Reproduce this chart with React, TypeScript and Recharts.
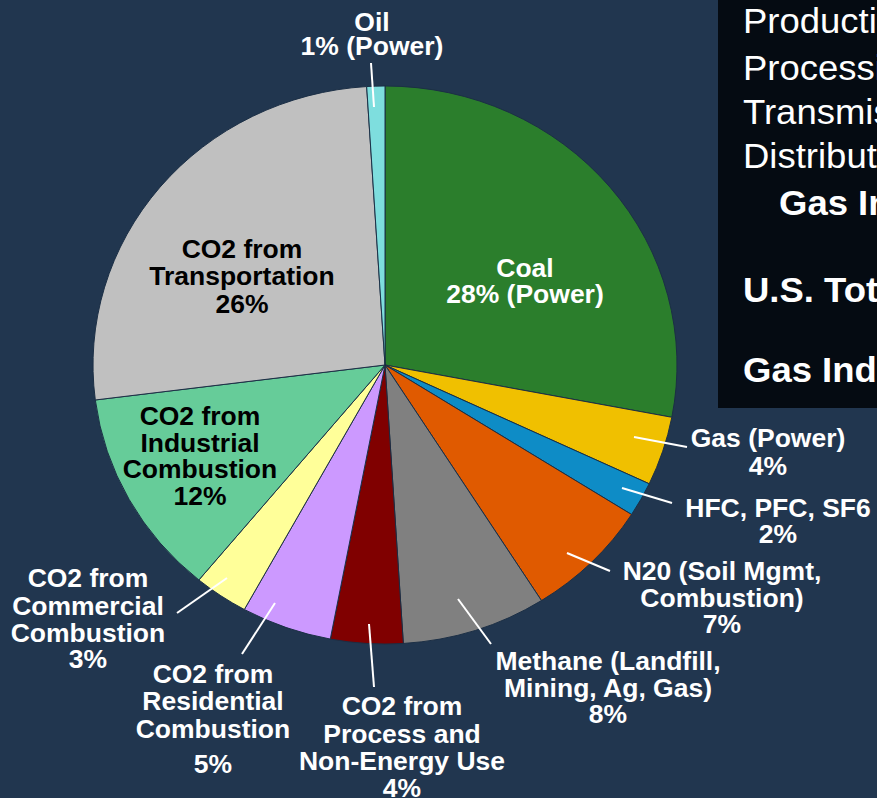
import React from 'react';
import { PieChart, Pie, Cell } from 'recharts';

// ---------- data ----------
const categories = [
  'Coal',
  'Gas (Power)',
  'HFC, PFC, SF6',
  'N20 (Soil Mgmt, Combustion)',
  'Methane (Landfill, Mining, Ag, Gas)',
  'CO2 from Process and Non-Energy Use',
  'CO2 from Residential Combustion',
  'CO2 from Commercial Combustion',
  'CO2 from Industrial Combustion',
  'CO2 from Transportation',
  'Oil',
];
const shares = [28, 4, 2, 7, 8, 4, 5, 3, 12, 26, 1];
const labelTexts = [
  ['Coal', '28% (Power)'],
  ['Gas (Power)', '4%'],
  ['HFC, PFC, SF6', '2%'],
  ['N20 (Soil Mgmt,', 'Combustion)', '7%'],
  ['Methane (Landfill,', 'Mining, Ag, Gas)', '8%'],
  ['CO2 from', 'Process and', 'Non-Energy Use', '4%'],
  ['CO2 from', 'Residential', 'Combustion', '5%'],
  ['CO2 from', 'Commercial', 'Combustion', '3%'],
  ['CO2 from', 'Industrial', 'Combustion', '12%'],
  ['CO2 from', 'Transportation', '26%'],
  ['Oil', '1% (Power)'],
];
const sideBoxTexts = [
  'Production',
  'Processing',
  'Transmission',
  'Distribution',
  'Gas Industry',
  'U.S. Total',
  'Gas Industry',
];

// ---------- styles / layout ----------
const colors = [
  '#2B7E2C', '#F0C000', '#0E8CC6', '#E05A00', '#808080', '#800000',
  '#CC99FF', '#FFFF99', '#66CC99', '#C0C0C0', '#7EDEDE',
];
const BG = '#21364F';
const FONT = '"Liberation Sans", Arial, sans-serif';
const S = 0.9555; // vertical squash of the original slide
const W = 877;
const H = Math.round(798 / S);
const CX = 385;
const CY = 365 / S;
const R = 292;
const LABEL_SIZE = 26.5;
const BOX_SIZE = 36.5;

// label layout, offsets from pie centre in screen pixels
const labelLayout: { x: number; base: number[]; leader?: number[]; dark?: boolean }[] = [
  { x: 140, base: [-88, -62] },
  { x: 383, base: [82, 110], leader: [249, 72, 302, 82] },
  { x: 393, base: [152, 178], leader: [237, 123, 287, 138] },
  { x: 337, base: [215, 242, 268], leader: [182, 188, 225, 206] },
  { x: 223, base: [305, 332, 358], leader: [73, 234, 106, 279] },
  { x: 17, base: [350, 378, 405, 432], leader: [-16, 259, -11, 322] },
  { x: -172, base: [318, 345, 373, 408], leader: [-110, 238, -143, 289] },
  { x: -297, base: [222, 250, 277, 303], leader: [-158, 213, -208, 248] },
  { x: -185, base: [60, 87, 113, 140], dark: true },
  { x: -143, base: [-107, -80, -52], dark: true },
  { x: -13, base: [-334, -310], leader: [-14, -302, -11, -258] },
];
const sideBoxLayout = [
  { x: 743, y: 33, bold: false },
  { x: 743, y: 80, bold: false },
  { x: 743, y: 124, bold: false },
  { x: 743, y: 168, bold: false },
  { x: 779, y: 215, bold: true },
  { x: 743, y: 302, bold: true },
  { x: 743, y: 382, bold: true },
];

const data = categories.map((name, i) => ({ name, value: shares[i] }));

const renderLabel = (props: any) => {
  const index = props.index;
  const cx = props.cx ?? CX;
  const cy = props.cy ?? CY;
  const L = labelLayout[index];
  const lines = labelTexts[index];
  return (
    <g key={`lbl-${index}`}>
      {L.leader && (
        <line
          x1={cx + L.leader[0]}
          y1={cy + L.leader[1] / S}
          x2={cx + L.leader[2]}
          y2={cy + L.leader[3] / S}
          stroke="#ffffff"
          strokeWidth={2}
        />
      )}
      <text
        textAnchor="middle"
        fontFamily={FONT}
        fontWeight="bold"
        fontSize={LABEL_SIZE}
        fill={L.dark ? '#000000' : '#ffffff'}
      >
        {lines.map((t, i) => (
          <tspan key={i} x={cx + L.x} y={cy + L.base[i] / S}>
            {t}
          </tspan>
        ))}
      </text>
    </g>
  );
};

export default function App() {
  return (
    <div
      style={{
        position: 'absolute',
        left: 0,
        top: 0,
        width: W,
        height: 798,
        overflow: 'hidden',
        background: BG,
      }}
    >
      <div
        style={{
          position: 'relative',
          width: W,
          height: H,
          transform: `scale(1, ${S})`,
          transformOrigin: '0 0',
        }}
      >
        <svg
          width={W}
          height={H}
          style={{ position: 'absolute', left: 0, top: 0 }}
        >
          <rect x={718} y={0} width={W - 718} height={408 / S} fill="#050B12" />
          {sideBoxTexts.map((t, i) => (
            <text
              key={i}
              x={sideBoxLayout[i].x}
              y={sideBoxLayout[i].y / S}
              fontFamily={FONT}
              fontSize={BOX_SIZE}
              fontWeight={sideBoxLayout[i].bold ? 'bold' : 'normal'}
              fill="#ffffff"
            >
              {t}
            </text>
          ))}
        </svg>
        <div style={{ position: 'absolute', left: 0, top: 0 }}>
          <PieChart width={W} height={H} margin={{ top: 0, right: 0, bottom: 0, left: 0 }}>
            <Pie
              data={data}
              dataKey="value"
              nameKey="name"
              cx={CX}
              cy={CY}
              outerRadius={R}
              innerRadius={0}
              startAngle={90}
              endAngle={-270}
              stroke="#1B2E45"
              strokeWidth={1}
              isAnimationActive={false}
              label={renderLabel}
              labelLine={false}
            >
              {data.map((d, i) => (
                <Cell key={d.name} fill={colors[i]} />
              ))}
            </Pie>
          </PieChart>
        </div>
      </div>
    </div>
  );
}
